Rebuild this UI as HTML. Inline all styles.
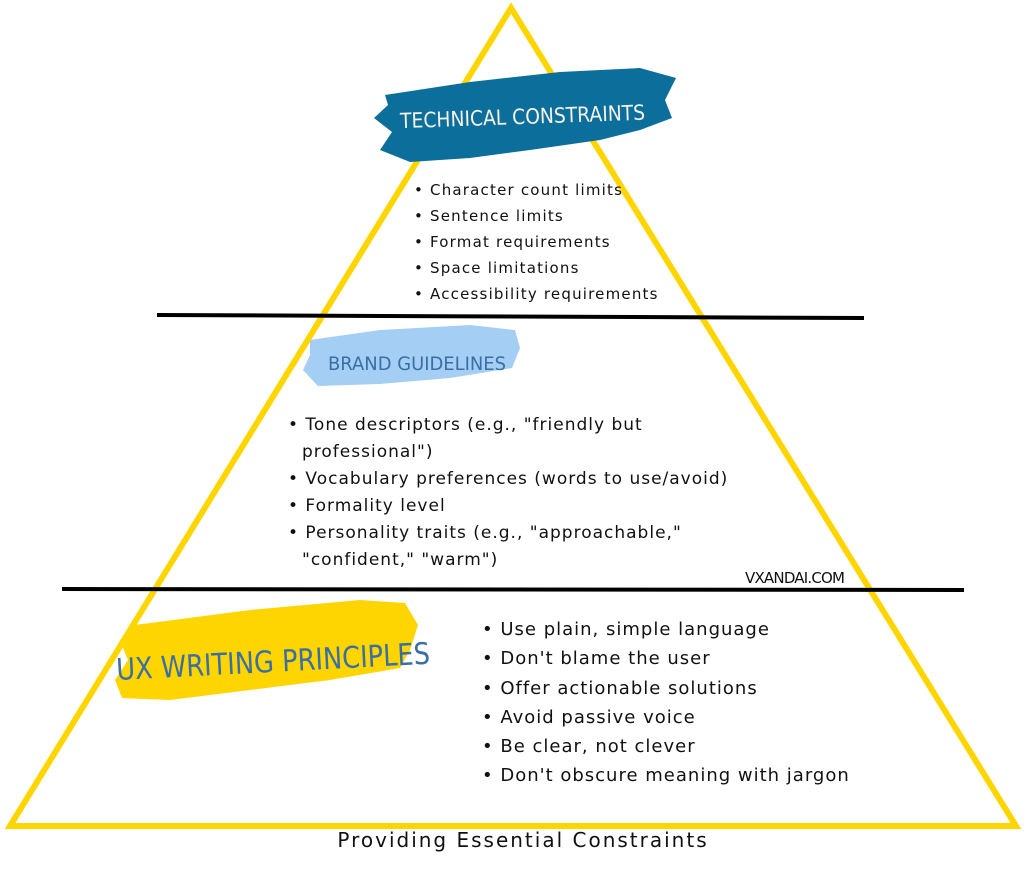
<!DOCTYPE html>
<html><head><style>
body{margin:0;background:#fff;}
svg{display:block}
text{font-family:"DejaVu Sans","Liberation Sans",sans-serif;fill:#111;}
</style></head><body>
<svg width="1024" height="872" viewBox="0 0 1024 872" xmlns="http://www.w3.org/2000/svg">
<polygon points="511,8 10,826 1016,826" fill="none" stroke="#FFD500" stroke-width="6"/>
<line x1="157" y1="315" x2="864" y2="318" stroke="#000" stroke-width="4"/>
<line x1="62" y1="589" x2="964" y2="590" stroke="#000" stroke-width="4"/>
<path d="M385,95 L470,82 L560,72 L640,68 L676,78 L665,100 L672,118 L640,130 L600,140 L530,150 L470,158 L410,162 L380,150 L392,132 L374,118 L388,105 Z" fill="#0C6E9B"/>
<text x="400" y="124" font-size="21" style="fill:#f5f2e8" transform="rotate(-2 520 115)" textLength="245" lengthAdjust="spacingAndGlyphs">TECHNICAL CONSTRAINTS</text>
<g font-size="15" letter-spacing="1.2">
<text x="414" y="195">• Character count limits</text>
<text x="414" y="221">• Sentence limits</text>
<text x="414" y="247">• Format requirements</text>
<text x="414" y="273">• Space limitations</text>
<text x="414" y="299">• Accessibility requirements</text>
</g>
<path d="M310,340 L380,330 L470,325 L515,330 L520,348 L512,368 L450,378 L380,384 L318,386 L303,370 L310,355 Z" fill="#A4CEF3"/>
<text x="328" y="370" font-size="19" style="fill:#3A6FA5" textLength="178" lengthAdjust="spacingAndGlyphs">BRAND GUIDELINES</text>
<g font-size="17" letter-spacing="1">
<text x="288" y="430">• Tone descriptors (e.g., "friendly but</text>
<text x="302" y="457">professional")</text>
<text x="288" y="484">• Vocabulary preferences (words to use/avoid)</text>
<text x="288" y="511">• Formality level</text>
<text x="288" y="538">• Personality traits (e.g., "approachable,"</text>
<text x="302" y="565">"confident," "warm")</text>
</g>
<text x="745" y="583" font-size="15" textLength="100">VXANDAI.COM</text>
<path d="M135,625 L250,610 L360,600 L405,603 L418,625 L410,650 L400,668 L330,680 L250,690 L170,700 L122,698 L115,680 L128,660 L120,640 Z" fill="#FFD500"/>
<text x="116" y="672" font-size="30" style="fill:#3A6FA5" transform="rotate(-3 270 660)" textLength="314" lengthAdjust="spacingAndGlyphs">UX WRITING PRINCIPLES</text>
<g font-size="18" letter-spacing="1">
<text x="482" y="635">• Use plain, simple language</text>
<text x="482" y="664">• Don't blame the user</text>
<text x="482" y="694">• Offer actionable solutions</text>
<text x="482" y="723">• Avoid passive voice</text>
<text x="482" y="752">• Be clear, not clever</text>
<text x="482" y="781">• Don't obscure meaning with jargon</text>
</g>
<text x="523" y="847" font-size="20" text-anchor="middle" letter-spacing="2">Providing Essential Constraints</text>
</svg>
</body></html>
